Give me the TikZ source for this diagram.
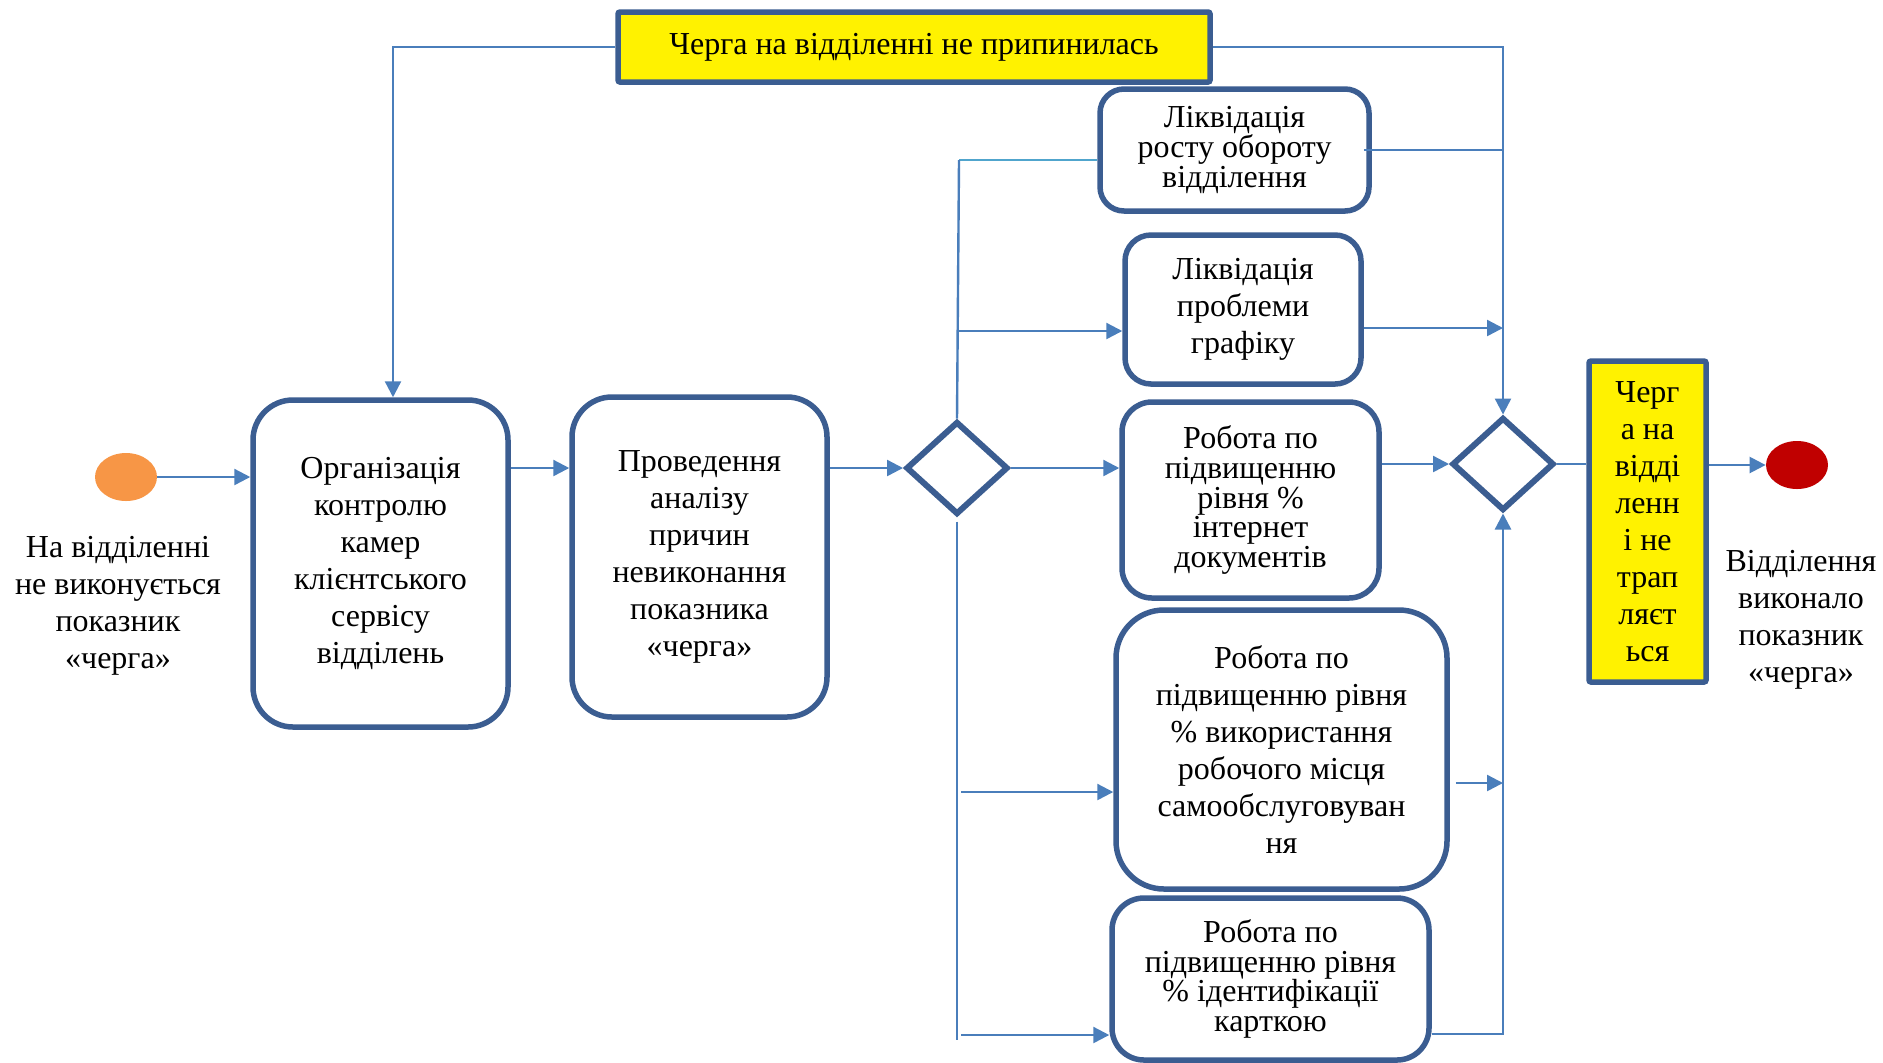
\documentclass[tikz,border=0pt]{standalone}
\usepackage{fontspec}
\setmainfont{Liberation Serif}[Script=Cyrillic,Ligatures=TeX]
\usetikzlibrary{arrows.meta,shapes.geometric,calc}

\definecolor{frame}{RGB}{59,93,145}
\definecolor{wire}{RGB}{74,126,187}
\definecolor{wirecyan}{RGB}{80,165,205}
\definecolor{startfill}{RGB}{247,150,70}
\definecolor{endfill}{RGB}{192,0,0}

\begin{document}
\begin{tikzpicture}[x=0.5pt,y=-0.5pt,
  every node/.style={font=\rmfamily\fontsize{16}{18.5}\selectfont, inner sep=0pt},
  proc/.style={draw=frame, line width=2.75pt, fill=white, align=center},
  tight/.style={font=\rmfamily\fontsize{16}{14.8}\selectfont},
  gate/.style={draw=frame, line width=3pt, diamond, fill=white,
               minimum width=51pt, minimum height=46.5pt},
  note/.style={draw=frame, line width=2.75pt, fill=yellow, align=center, rounded corners=1pt},
  terminal/.style={ellipse, minimum width=31pt, minimum height=24pt},
  link/.style={draw=wire, line width=1.2pt},
  arr/.style={link, -{Triangle[length=8pt,width=8pt]}}
]
\useasboundingbox (0,0) rectangle (1883,1062);
\fill[white] (0,0) rectangle (1883,1062);

% start and end states
\node[terminal, fill=startfill] (s) at (126,477) {};
\node[terminal, fill=endfill] (e) at (1797,465) {};
\node[align=center] (slab) at (118,606) {На відділенні\\не виконується\\показник\\«черга»};
\node[align=center] (elab) at (1801,620) {Відділення\\виконало\\показник\\«черга»};

% main process boxes
\node[proc, rounded corners=20pt, minimum width=127.5pt, minimum height=163.5pt] (b1) at (380.5,563.5)
  {Організація\\контролю\\камер\\клієнтського\\сервісу\\відділень};
\node[proc, rounded corners=20pt, minimum width=127.5pt, minimum height=160pt] (b2) at (699.5,557)
  {Проведення\\аналізу\\причин\\невиконання\\показника\\«черга»};

% decision points
\node[gate] (d1) at (957,468) {};
\node[gate] (d2) at (1503,464) {};

% parallel actions
\node[proc, tight, rounded corners=12pt, minimum width=134.5pt, minimum height=61pt] (l1) at (1234.5,150)
  {Ліквідація\\росту обороту\\відділення};
\node[proc, rounded corners=13pt, minimum width=118pt, minimum height=74.5pt] (l2) at (1243,309.5)
  {Ліквідація\\проблеми\\графіку};
\node[proc, tight, rounded corners=15pt, minimum width=128.5pt, minimum height=98pt] (r1) at (1250.5,500)
  {Робота по\\підвищенню\\рівня \%\\інтернет\\документів};
\node[proc, rounded corners=24pt, minimum width=165.5pt, minimum height=139.5pt] (r2) at (1281.5,749.5)
  {Робота по\\підвищенню рівня\\\% використання\\робочого місця\\самообслуговуван\\ня};
\node[proc, tight, rounded corners=16pt, minimum width=158.5pt, minimum height=81pt] (r3) at (1270.5,979)
  {Робота по\\підвищенню рівня\\\% ідентифікації\\карткою};

% highlighted notes
\node[note, minimum width=296pt, minimum height=35pt] (top) at (914,47)
  {Черга на відділенні не припинилась};
\node[note, minimum width=58.5pt, minimum height=160.5pt] (yel) at (1647.5,521.5)
  {Черг\\а на\\відді\\ленн\\і не\\трап\\ляєт\\ься};

% trunk points
\coordinate (tl) at (393,47);
\coordinate (k1) at (959,160);
\coordinate (k2) at (959,331);
\coordinate (k3) at (961,1040);
\coordinate (k4) at (961,792);
\coordinate (k5) at (961,1035);
\coordinate (m2) at (1503,328);
\coordinate (q4) at (1503,783);
\coordinate (q5) at (1503,1034);

% main flow
\draw[arr] (s.east) -- (s.east -| b1.west);
\draw[arr] (b1.east |- d1) -- (b2.west |- d1);
\draw[arr] (b2.east |- d1) -- (d1.west);
\draw[arr] (d1.east) -- (d1.east -| r1.west);
\draw[arr] (r1.east |- d2) -- (d2.west);
\draw[link] (d2.east) -- (d2.east -| yel.west);
\draw[arr] (yel.east |- e) -- (e.west);

% loop back while the queue remains
\draw[arr] (top.west) -- (tl) -- (tl |- b1.north);
\draw[arr] (top.east) -| (d2.north);

% fork
\draw[link, draw=wirecyan] (l1.west |- k1) -- (k1);
\draw[link] (k1) -- (d1.north);
\draw[arr] (k2) -- (k2 -| l2.west);
\draw[link] ([yshift=-2pt]d1.south) -- (d1.south |- k3);
\draw[arr] (k4) -- (k4 -| r2.west);
\draw[arr] (k5) -- (k5 -| r3.west);

% join
\draw[link] ([xshift=-4pt]l1.east) -- (l1.east -| d2.north);
\draw[arr] (l2.east |- m2) -- (m2);
\draw[arr] ([xshift=3pt]r2.east |- q4) -- (q4);
\draw[arr] (r3.east |- q5) -| (d2.south);
\end{tikzpicture}
\end{document}
